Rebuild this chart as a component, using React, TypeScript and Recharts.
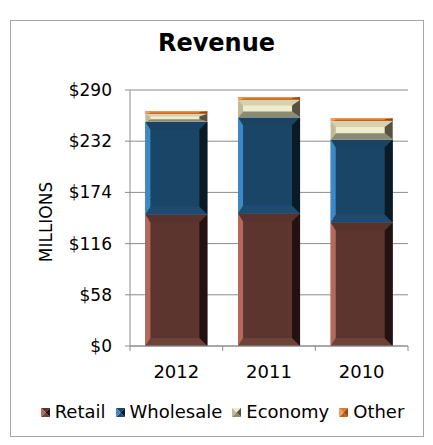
import React from 'react';
import { BarChart, Bar, XAxis, YAxis, CartesianGrid } from 'recharts';

const categories = ['2012', '2011', '2010'];
const retail = [149, 150, 140];
const wholesale = [105, 109, 94];
const economy = [9, 20, 21];
const other = [3, 3, 3];
const yTicks = [0, 58, 116, 174, 232, 290];
const seriesNames = ['Retail', 'Wholesale', 'Economy', 'Other'];

const data = categories.map((c, i) => ({
  year: c,
  Retail: retail[i],
  Wholesale: wholesale[i],
  Economy: economy[i],
  Other: other[i],
}));

type Pal = { main: string; left: string; right: string; top: string; bottom: string };
const palettes: Record<string, Pal> = {
  Retail: { main: '#5d352f', left: '#b5695b', right: '#231211', top: '#5a322c', bottom: '#6e4139' },
  Wholesale: { main: '#1b4566', left: '#3b89c7', right: '#0a1a26', top: '#1a4262', bottom: '#1e4b6f' },
  Economy: { main: '#efecce', left: '#bdb999', right: '#55533f', top: '#d6d2ae', bottom: '#8d8a72' },
  Other: { main: '#e07a2e', left: '#f0a060', right: '#9a4a10', top: '#f09040', bottom: '#c06020' },
};

const FONT = '"DejaVu Sans", Verdana, sans-serif';
const GRID = '#8c8c8c';

function makeShape(pal: Pal) {
  return (props: any) => {
    const { x, y, width: w, height: h } = props;
    if (!h || h <= 0 || !w) return <g />;
    const b = Math.min(8, h / 3);
    const l = Math.min(5, w / 4);
    const r = Math.min(8, w / 4);
    const o = [
      [x, y],
      [x + w, y],
      [x + w, y + h],
      [x, y + h],
    ];
    const n = [
      [x + l, y + b],
      [x + w - r, y + b],
      [x + w - r, y + h - b],
      [x + l, y + h - b],
    ];
    const pts = (a: number[][]) => a.map((p) => p.join(',')).join(' ');
    return (
      <g>
        <rect x={x} y={y} width={w} height={h} fill={pal.main} />
        <polygon points={pts([o[0], o[1], n[1], n[0]])} fill={pal.top} />
        <polygon points={pts([o[3], o[2], n[2], n[3]])} fill={pal.bottom} />
        <polygon points={pts([o[0], n[0], n[3], o[3]])} fill={pal.left} />
        <polygon points={pts([o[1], n[1], n[2], o[2]])} fill={pal.right} />
      </g>
    );
  };
}

const XTick = (props: any) => {
  const { x, y, payload, index, width } = props;
  const off = width / categories.length / 2;
  const axisY = y - 19;
  return (
    <g>
      <line x1={x - off} y1={axisY} x2={x - off} y2={axisY + 5} stroke={GRID} />
      {index === categories.length - 1 && (
        <line x1={x + off} y1={axisY} x2={x + off} y2={axisY + 5} stroke={GRID} />
      )}
      <text x={x} y={y} dy="0.71em" textAnchor="middle" fontFamily={FONT} fontSize={18} fill="#000">
        {payload.value}
      </text>
    </g>
  );
};

const YLabel = (props: any) => {
  const vb = props.viewBox || {};
  const cx = 45.5;
  const cy = vb.y + vb.height / 2 + 4;
  return (
    <text
      x={cx}
      y={cy}
      transform={`rotate(-90 ${cx} ${cy})`}
      textAnchor="middle"
      dominantBaseline="central"
      fontFamily={FONT}
      fontSize={17}
      fill="#000"
    >
      MILLIONS
    </text>
  );
};

const LegendIcon = ({ pal }: { pal: Pal }) => (
  <svg width={9} height={9} style={{ display: 'block' }}>
    <polygon points="0,0 9,0 4.5,4.5" fill={pal.main} />
    <polygon points="0,9 9,9 4.5,4.5" fill={pal.bottom} />
    <polygon points="0,0 4.5,4.5 0,9" fill={pal.left} />
    <polygon points="9,0 4.5,4.5 9,9" fill={pal.right} />
  </svg>
);

export default function App() {
  return (
    <div style={{ position: 'absolute', left: 0, top: 0, width: 433, height: 445, background: '#fff' }}>
      <div
        style={{
          position: 'absolute',
          left: 10,
          top: 20,
          width: 412,
          height: 415,
          border: '1.5px solid #a6a6a6',
        }}
      />
      <div
        style={{
          position: 'absolute',
          left: 0,
          top: 28,
          width: 433,
          textAlign: 'center',
          fontFamily: FONT,
          fontWeight: 'bold',
          fontSize: 24,
          lineHeight: '30px',
          color: '#000',
        }}
      >
        Revenue
      </div>
      <div style={{ position: 'absolute', left: 0, top: 0 }}>
        <BarChart
          width={433}
          height={445}
          data={data}
          margin={{ top: 90, right: 25, bottom: 69, left: 30 }}
          barCategoryGap="16.6%"
        >
          <CartesianGrid vertical={false} stroke={GRID} />
          <XAxis
            dataKey="year"
            height={30}
            axisLine={{ stroke: GRID }}
            tickLine={false}
            tickSize={5}
            tickMargin={14}
            tick={<XTick />}
            interval={0}
          />
          <YAxis
            width={100}
            domain={[0, 290]}
            ticks={yTicks}
            interval={0}
            axisLine={{ stroke: GRID }}
            tickLine={{ stroke: GRID }}
            tickSize={5}
            tickMargin={13}
            tickFormatter={(v: number) => `$${v}`}
            tick={{ fontFamily: FONT, fontSize: 17, fill: '#000' }}
            label={<YLabel />}
          />
          {seriesNames.map((s) => (
            <Bar key={s} dataKey={s} stackId="a" isAnimationActive={false} shape={makeShape(palettes[s])} />
          ))}
        </BarChart>
      </div>
      <div
        style={{
          position: 'absolute',
          left: 6,
          top: 400,
          width: 433,
          display: 'flex',
          justifyContent: 'center',
          alignItems: 'center',
          fontFamily: FONT,
          fontSize: 18,
          lineHeight: '24px',
          color: '#000',
        }}
      >
        {seriesNames.map((s, i) => (
          <div
            key={s}
            style={{ display: 'flex', alignItems: 'center', marginRight: i < seriesNames.length - 1 ? 10 : 0 }}
          >
            <LegendIcon pal={palettes[s]} />
            <span style={{ marginLeft: 5 }}>{s}</span>
          </div>
        ))}
      </div>
    </div>
  );
}
